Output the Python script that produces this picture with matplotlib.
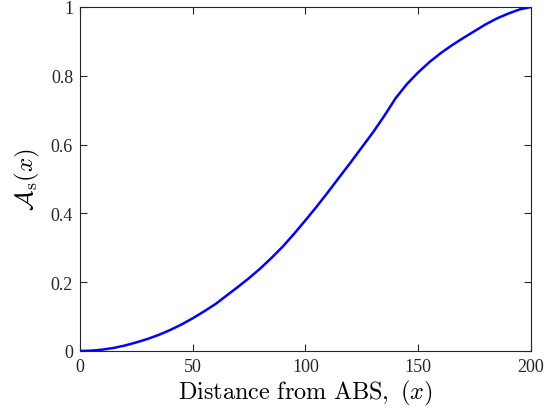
import matplotlib
matplotlib.use("Agg")
import matplotlib.pyplot as plt

# values
distance = [0, 5, 10, 15, 20, 25, 30, 35, 40, 45, 50, 55, 60, 65, 70, 75,
            80, 85, 90, 95, 100, 105, 110, 115, 120, 125, 130, 135, 140,
            145, 150, 155, 160, 165, 170, 175, 180, 185, 190, 195, 200]
a_s = [0, 0.001, 0.004, 0.009, 0.016, 0.025, 0.035, 0.047, 0.061, 0.077,
       0.095, 0.115, 0.136, 0.161, 0.186, 0.212, 0.24, 0.271, 0.304, 0.341,
       0.38, 0.42, 0.462, 0.505, 0.548, 0.592, 0.636, 0.684, 0.735,
       0.776, 0.81, 0.84, 0.866, 0.889, 0.91, 0.93, 0.95, 0.967, 0.981,
       0.993, 1.0]

x_ticks = [0, 50, 100, 150, 200]
y_ticks = [0, 0.2, 0.4, 0.6, 0.8, 1]
y_tick_labels = ["0", "0.2", "0.4", "0.6", "0.8", "1"]

plt.rcParams["font.family"] = ["Liberation Serif", "DejaVu Serif"]
plt.rcParams["mathtext.fontset"] = "cm"

fig = plt.figure(figsize=(5.57, 4.14), dpi=100)
ax = fig.add_axes([0.1436, 0.1498, 0.8097, 0.8309])

ax.plot(distance, a_s, color="#0000ff", linewidth=1.8)

ax.set_xlim(0, 200)
ax.set_ylim(0, 1)
ax.set_xticks(x_ticks)
ax.set_xticklabels([str(t) for t in x_ticks])
ax.set_yticks(y_ticks)
ax.set_yticklabels(y_tick_labels)

edge = "#262626"
for s in ax.spines.values():
    s.set_color(edge)
    s.set_linewidth(0.8)
ax.tick_params(direction="in", length=5, width=0.8, colors=edge,
               labelsize=13, top=True, right=True, pad=5)

ax.set_xlabel(r"$\mathrm{Distance\ from\ ABS,}\ (x)$", fontsize=17.5, labelpad=2)
ax.set_ylabel(r"$\mathcal{A}_{\rm s}(x)$", fontsize=18, labelpad=6)

fig.savefig("out.png", dpi=100)
